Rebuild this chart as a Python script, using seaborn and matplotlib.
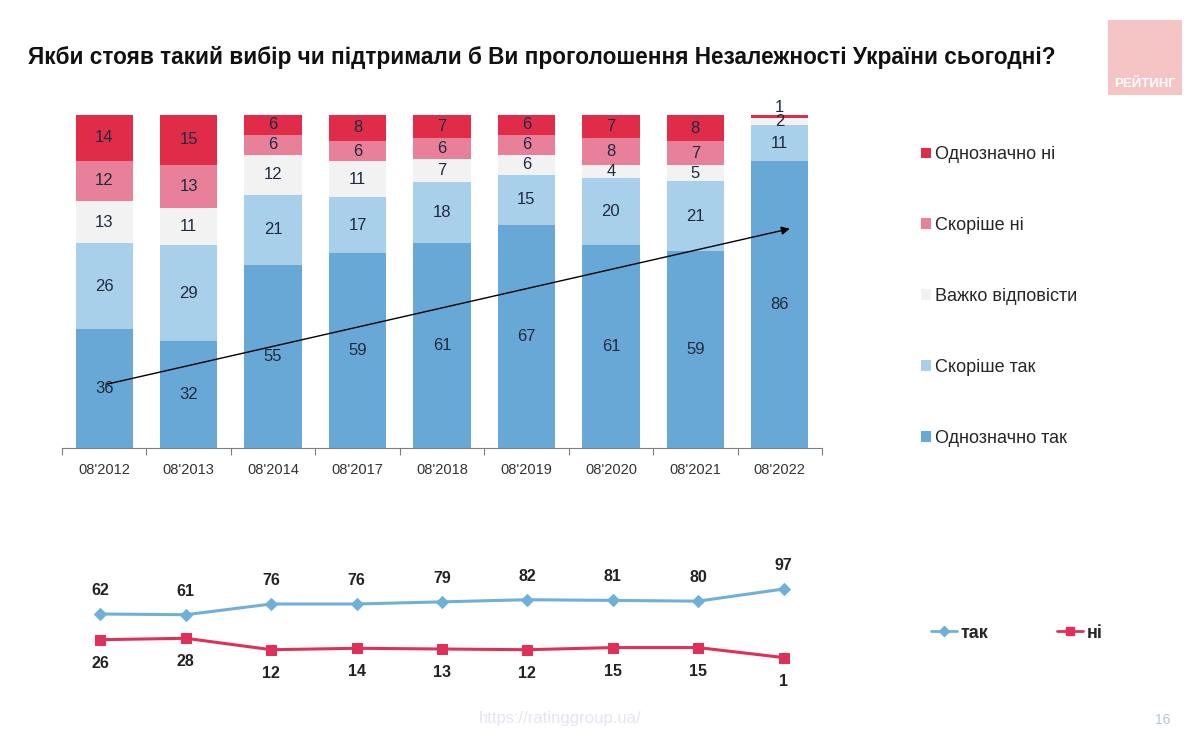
import numpy as np
import pandas as pd
import seaborn as sns
import matplotlib.pyplot as plt
from matplotlib.patches import Patch, Rectangle
from matplotlib.lines import Line2D

# Дані
waves = ["08'2012", "08'2013", "08'2014", "08'2017", "08'2018",
         "08'2019", "08'2020", "08'2021", "08'2022"]
def_yes = [36, 32, 55, 59, 61, 67, 61, 59, 86]
rather_yes = [26, 29, 21, 17, 18, 15, 20, 21, 11]
hard_to_say = [13, 11, 12, 11, 7, 6, 4, 5, 2]
rather_no = [12, 13, 6, 6, 6, 6, 8, 7, 0]
def_no = [14, 15, 6, 8, 7, 6, 7, 8, 1]

yes_total = [62, 61, 76, 76, 79, 82, 81, 80, 97]
no_total = [26, 28, 12, 14, 13, 12, 15, 15, 1]

series = ["Однозначно так", "Скоріше так", "Важко відповісти", "Скоріше ні", "Однозначно ні"]
colors = ["#68a8d6", "#a9d0ea", "#f2f2f2", "#e8809a", "#e02c48"]

sns.set_theme(style="white")
plt.rcParams['font.family'] = ['Liberation Sans', 'DejaVu Sans']

df = pd.DataFrame({"wave": waves, series[0]: def_yes, series[1]: rather_yes,
                   series[2]: hard_to_say, series[3]: rather_no, series[4]: def_no})
vals = df[series].astype(float)
shares = vals.div(vals.sum(axis=1), axis=0) * 100  # 100% stacked
cum = shares.cumsum(axis=1)

fig = plt.figure(figsize=(12, 7.31), dpi=100)
ax = fig.add_axes([0.0517, 0.387, 0.6333, 0.456])

# стовпці: малюємо накопичені суми зверху вниз
for s, c in reversed(list(zip(series, colors))):
    sns.barplot(x=df["wave"], y=cum[s], color=c, saturation=1, width=0.68,
                linewidth=0, edgecolor="none", ax=ax)

# підписи значень
for i in range(len(waves)):
    for j, s in enumerate(series):
        v = df.loc[i, s]
        if v == 0:
            continue
        top = cum.loc[i, s]
        h = shares.loc[i, s]
        y = top - h / 2 if h >= 2 else top + 2.3
        ax.text(i, y, f"{v}", ha="center", va="center", fontsize=12, color="#1f2a40")

ax.set_ylim(0, 100)
ax.set_xlim(-0.45, 8.45)
ax.set_xlabel("")
ax.set_ylabel("")
ax.set_yticks([])
for sp in ["top", "right", "left"]:
    ax.spines[sp].set_visible(False)
ax.spines["bottom"].set_color("#7f7f7f")
ax.spines["bottom"].set_linewidth(0.8)
ax.tick_params(axis="x", which="major", length=0, labelsize=10.5, labelcolor="#333333", pad=11)
ax.set_xticks(np.arange(-0.5, 9.0, 1.0), minor=True)
ax.tick_params(axis="x", which="minor", length=5, width=0.8, color="#7f7f7f", bottom=True)

ax.annotate("", xy=(8.15, 66), xytext=(0, 19),
            arrowprops=dict(arrowstyle="-|>", color="black", lw=1, mutation_scale=12))

handles = [Patch(facecolor=c, edgecolor="none") for c in reversed(colors)]
fig.legend(handles, list(reversed(series)), loc="upper left", bbox_to_anchor=(0.754, 0.822),
           frameon=False, fontsize=13, handlelength=0.55, handleheight=0.55,
           handletextpad=0.25, labelspacing=2.98)

# лінійний графік
ax2 = fig.add_axes([0.0517, 0.0424, 0.6333, 0.2189])
sns.lineplot(x=waves, y=yes_total, sort=False, color="#6fb0da", lw=2.2, marker="D",
             markersize=6, markeredgecolor="#6fb0da", ax=ax2)
sns.lineplot(x=waves, y=no_total, sort=False, color="#e0305a", lw=2.2, marker="s",
             markersize=7, markeredgecolor="#e0305a", ax=ax2)
for i in range(len(waves)):
    ax2.annotate(f"{yes_total[i]}", (i, yes_total[i]), xytext=(0, 17), textcoords="offset points",
                 ha="center", va="center", fontsize=11.5, fontweight="bold", color="#222222")
    ax2.annotate(f"{no_total[i]}", (i, no_total[i]), xytext=(0, -17), textcoords="offset points",
                 ha="center", va="center", fontsize=11.5, fontweight="bold", color="#222222")
ax2.set_xlim(-0.45, 8.45)
ax2.set_ylim(-58.4, 165.6)
ax2.axis("off")

lh = [Line2D([], [], color="#6fb0da", lw=2, marker="D", markersize=5),
      Line2D([], [], color="#e0305a", lw=2, marker="s", markersize=6)]
leg2 = fig.legend(lh, ["так", "ні"], loc="center left", bbox_to_anchor=(0.762, 0.134),
                  frameon=False, ncol=2, fontsize=13, handlelength=1.45,
                  handletextpad=0.2, columnspacing=3.8)
for t in leg2.get_texts():
    t.set_fontweight("bold")

# заголовок і оформлення
fig.text(0.023, 0.921, "Якби стояв такий вибір чи підтримали б Ви проголошення Незалежності України сьогодні?",
         ha="left", va="center", fontsize=16.3, fontweight="bold", color="#111111")
fig.patches.append(Rectangle((1108 / 1200, 1 - 95 / 731), 74 / 1200, 75 / 731,
                             transform=fig.transFigure, facecolor="#f5c4c4", edgecolor="none"))
fig.text(1145 / 1200, 1 - 84 / 731, "РЕЙТИНГ", ha="center", va="center",
         fontsize=9.5, fontweight="bold", color="white")
fig.text(560 / 1200, 1 - 718 / 731, "https://ratinggroup.ua/", ha="center", va="center",
         fontsize=12, color="#e3e6f0")
fig.text(1163 / 1200, 1 - 720 / 731, "16", ha="center", va="center", fontsize=10, color="#b8c4d8")

fig.savefig("out.png", dpi=100)
